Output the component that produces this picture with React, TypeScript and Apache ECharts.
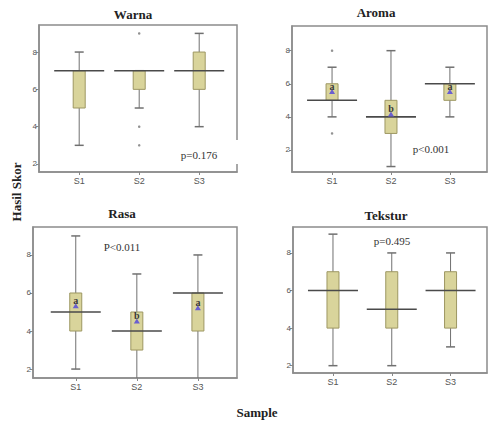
import React, { useEffect, useRef } from "react";
import * as echarts from "echarts";

const samples = ["S1", "S2", "S3"];
const yTicks = [2, 4, 6, 8];

// Warna
const warnaLow = [3, 5, 4];
const warnaQ1 = [5, 6, 6];
const warnaMed = [7, 7, 7];
const warnaQ3 = [7, 7, 8];
const warnaHigh = [8, 7, 9];
const warnaOutliers = [[2, 9], [2, 4], [2, 3]];

// Aroma
const aromaLow = [4, 1, 4];
const aromaQ1 = [5, 3, 5];
const aromaMed = [5, 4, 6];
const aromaQ3 = [6, 5, 6];
const aromaHigh = [7, 8, 7];
const aromaOutliers = [[1, 8], [1, 3]];
const aromaMeans = [5.5, 4.15, 5.5];
const aromaLetters = ["a", "b", "a"];

// Rasa
const rasaLow = [2, 1, 1];
const rasaQ1 = [4, 3, 4];
const rasaMed = [5, 4, 6];
const rasaQ3 = [6, 5, 6];
const rasaHigh = [9, 7, 8];
const rasaMeans = [5.3, 4.5, 5.2];
const rasaLetters = ["a", "b", "a"];

// Tekstur
const teksturLow = [2, 2, 3];
const teksturQ1 = [4, 4, 4];
const teksturMed = [6, 5, 6];
const teksturQ3 = [7, 7, 7];
const teksturHigh = [9, 8, 8];

const titles = ["Warna", "Aroma", "Rasa", "Tekstur"];
const pTexts = ["p=0.176", "p<0.001", "P<0.011", "p=0.495"];

const BOX_FILL = "#d9d49b";
const BOX_BORDER = "#9d9762";
const WHISKER = "#707070";
const MEDIAN = "#4a4a4a";
const FRAME = "#8c8c8c";

function boxData(low: number[], q1: number[], med: number[], q3: number[], high: number[]) {
  return samples.map((_, i) => [i + 1, low[i], q1[i], med[i], q3[i], high[i]]);
}

const panels = [
  { grid: { left: 39, top: 25, width: 198, height: 147 }, x: [0.33, 3.63], y: [1.57, 9.45],
    box: boxData(warnaLow, warnaQ1, warnaMed, warnaQ3, warnaHigh), out: warnaOutliers, means: null as number[] | null, letters: null as string[] | null },
  { grid: { left: 292, top: 26, width: 195, height: 146 }, x: [0.32, 3.63], y: [0.67, 9.49],
    box: boxData(aromaLow, aromaQ1, aromaMed, aromaQ3, aromaHigh), out: aromaOutliers, means: aromaMeans, letters: aromaLetters },
  { grid: { left: 33, top: 227, width: 204, height: 151 }, x: [0.3, 3.64], y: [1.53, 9.47],
    box: boxData(rasaLow, rasaQ1, rasaMed, rasaQ3, rasaHigh), out: [] as number[][], means: rasaMeans, letters: rasaLetters },
  { grid: { left: 293, top: 227, width: 194, height: 146 }, x: [0.32, 3.62], y: [1.61, 9.38],
    box: boxData(teksturLow, teksturQ1, teksturMed, teksturQ3, teksturHigh), out: [] as number[][], means: null, letters: null },
];

const titlePos = [[133, 14], [376, 12], [122, 213], [386, 215]];
const pPos = [[199, 155], [431, 149], [122, 247], [392, 241]];

function renderBox(params: any, api: any) {
  const x = api.value(0);
  const low = api.coord([x, api.value(1)]);
  const q1 = api.coord([x, api.value(2)]);
  const med = api.coord([x, api.value(3)]);
  const q3 = api.coord([x, api.value(4)]);
  const high = api.coord([x, api.value(5)]);
  const cx = low[0];
  const bw = 12, mw = 50, cw = 9;
  const lineStyle = { stroke: WHISKER, lineWidth: 1 };
  return {
    type: "group",
    children: [
      { type: "line", shape: { x1: cx, y1: low[1], x2: cx, y2: high[1] }, style: lineStyle },
      { type: "line", shape: { x1: cx - cw / 2, y1: low[1], x2: cx + cw / 2, y2: low[1] }, style: { stroke: WHISKER, lineWidth: 1.5 } },
      { type: "line", shape: { x1: cx - cw / 2, y1: high[1], x2: cx + cw / 2, y2: high[1] }, style: { stroke: WHISKER, lineWidth: 1.5 } },
      { type: "rect", shape: { x: cx - bw / 2, y: q3[1], width: bw, height: q1[1] - q3[1] }, style: { fill: BOX_FILL, stroke: BOX_BORDER, lineWidth: 1 } },
      { type: "line", shape: { x1: cx - mw / 2, y1: med[1], x2: cx + mw / 2, y2: med[1] }, style: { stroke: MEDIAN, lineWidth: 1.6 } },
    ],
  };
}

function renderMean(letters: string[]) {
  return (params: any, api: any) => {
    const pt = api.coord([api.value(0), api.value(1)]);
    const cx = pt[0], cy = pt[1];
    return {
      type: "group",
      children: [
        { type: "polygon", shape: { points: [[cx, cy - 3], [cx - 3, cy + 2], [cx + 3, cy + 2]] }, style: { fill: "#6a5fd0" } },
        { type: "text", x: cx, y: cy - 1, style: { text: letters[params.dataIndex], textAlign: "center", textVerticalAlign: "bottom", font: "bold 10px 'Liberation Serif'", fill: "#3a3a3a" } },
      ],
    };
  };
}

export default function App() {
  const ref = useRef<HTMLDivElement>(null);
  useEffect(() => {
    if (!ref.current) return;
    const chart = echarts.init(ref.current, null, { renderer: "svg" });
    const grids: any[] = [];
    const xAxes: any[] = [];
    const yAxes: any[] = [];
    const series: any[] = [];
    panels.forEach((p, i) => {
      grids.push({ ...p.grid, show: true, borderColor: FRAME, borderWidth: 1.5, backgroundColor: "#ffffff" });
      xAxes.push({
        type: "value", gridIndex: i, min: p.x[0], max: p.x[1],
        splitLine: { show: false },
        axisLine: { show: true, lineStyle: { color: FRAME, width: 1.5 } },
        axisTick: { show: true, length: 3, customValues: [1, 2, 3], lineStyle: { color: "#888" } },
        axisLabel: { customValues: [1, 2, 3], formatter: (v: number) => samples[Math.round(v) - 1] || "", fontFamily: "Liberation Sans", fontSize: 9, color: "#555", margin: 4 },
      });
      yAxes.push({
        type: "value", gridIndex: i, min: p.y[0], max: p.y[1],
        splitLine: { show: false },
        axisLine: { show: true, lineStyle: { color: FRAME, width: 1.5 } },
        axisTick: { show: true, length: 3, customValues: yTicks, lineStyle: { color: "#888" } },
        axisLabel: { customValues: yTicks, formatter: (v: number) => String(Math.round(v)), fontFamily: "Liberation Sans", fontSize: 8, color: "#555", margin: 2 },
      });
      series.push({ type: "custom", xAxisIndex: i, yAxisIndex: i, clip: true, renderItem: renderBox, data: p.box });
      if (p.out.length) {
        series.push({ type: "scatter", xAxisIndex: i, yAxisIndex: i, symbol: "circle", symbolSize: 2.5, itemStyle: { color: "#777" }, data: p.out });
      }
      if (p.means && p.letters) {
        series.push({
          type: "custom", xAxisIndex: i, yAxisIndex: i, renderItem: renderMean(p.letters),
          data: p.means.map((m, k) => [k + 1, m]), z: 5,
        });
      }
    });
    const graphic: any[] = [];
    graphic.push({ type: "rect", shape: { x: 186, y: 140, width: 56, height: 24 }, style: { fill: "#ffffff" }, z: 100 });
    titles.forEach((t, i) => {
      graphic.push({ type: "text", x: titlePos[i][0], y: titlePos[i][1], style: { text: t, textAlign: "center", textVerticalAlign: "middle", font: "bold 13px 'Liberation Serif'", fill: "#222" }, z: 101 });
      graphic.push({ type: "text", x: pPos[i][0], y: pPos[i][1], style: { text: pTexts[i], textAlign: "center", textVerticalAlign: "middle", font: "11px 'Liberation Serif'", fill: "#333" }, z: 101 });
    });
    graphic.push({ type: "text", x: 16, y: 192, rotation: Math.PI / 2, style: { text: "Hasil Skor", textAlign: "center", textVerticalAlign: "middle", font: "bold 13px 'Liberation Serif'", fill: "#222" }, z: 101 });
    graphic.push({ type: "text", x: 257, y: 412, style: { text: "Sample", textAlign: "center", textVerticalAlign: "middle", font: "bold 13px 'Liberation Serif'", fill: "#222" }, z: 101 });
    chart.setOption({
      animation: false,
      backgroundColor: "#ffffff",
      grid: grids,
      xAxis: xAxes,
      yAxis: yAxes,
      series,
      graphic,
    });
    return () => chart.dispose();
  }, []);
  return <div ref={ref} style={{ width: 489, height: 421, position: "absolute", left: 0, top: 0 }} />;
}
